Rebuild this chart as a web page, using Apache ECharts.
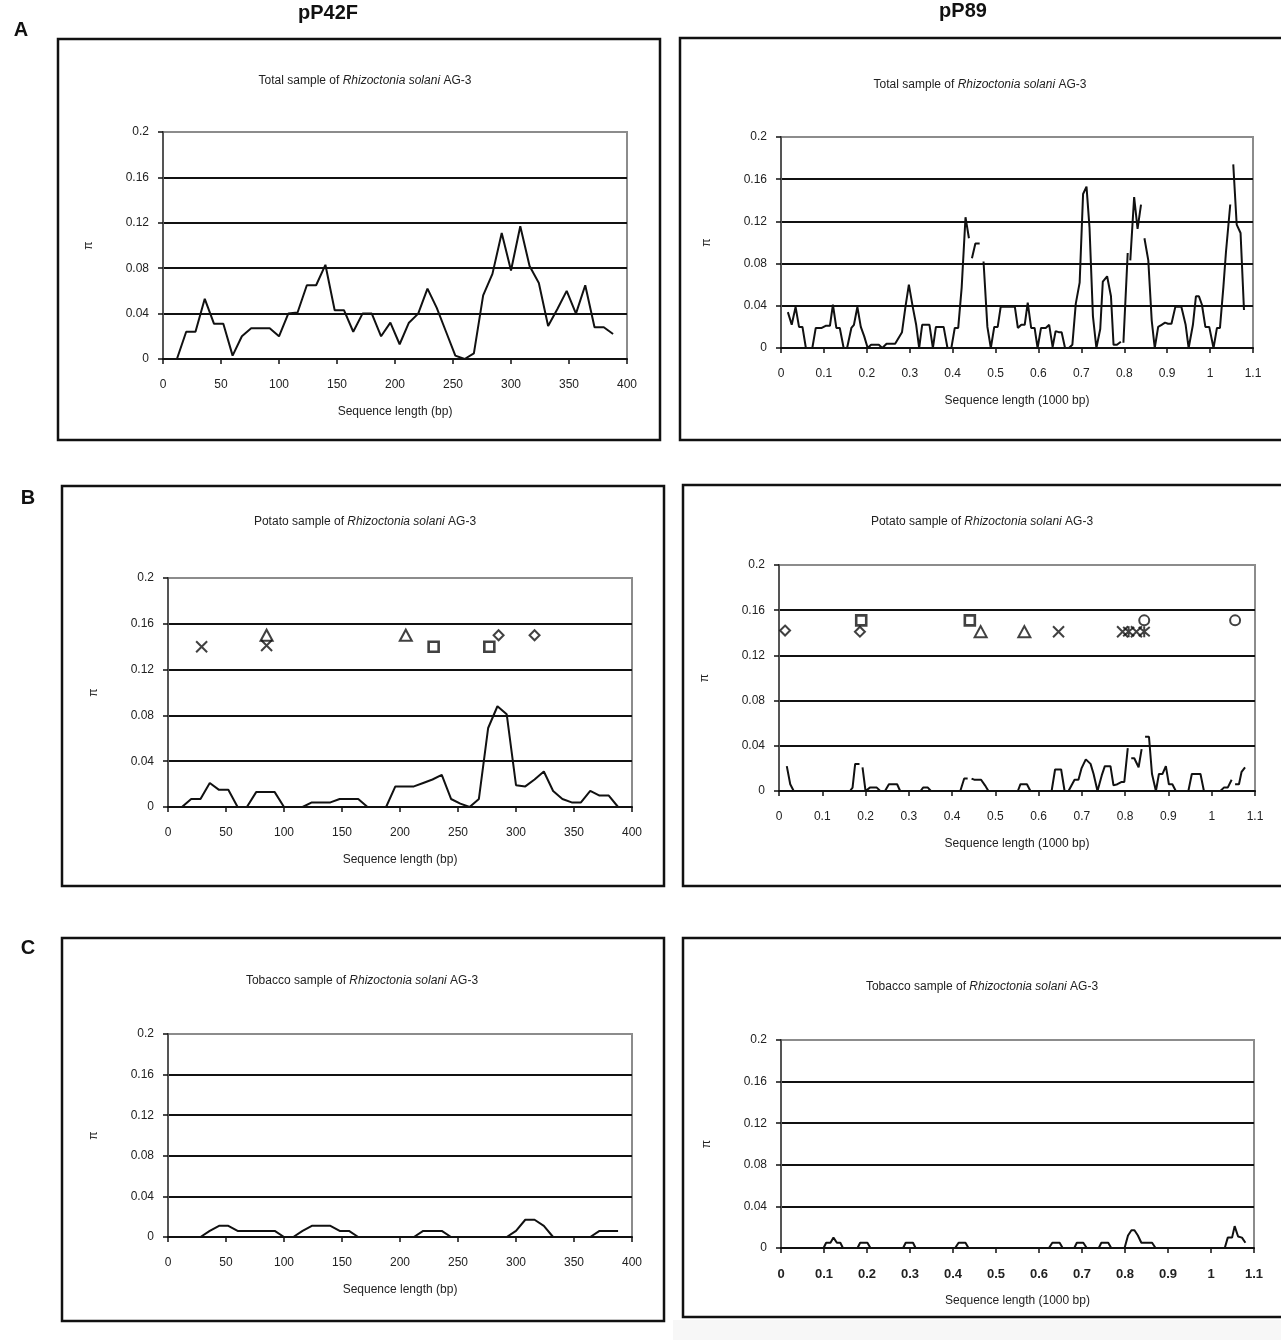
<!DOCTYPE html>
<html>
<head>
<meta charset="utf-8">
<script src="https://cdn.jsdelivr.net/npm/echarts@6/dist/echarts.min.js"></script>
<style>
html,body{margin:0;padding:0;background:#fff;}
#c{width:1281px;height:1340px;}
</style>
</head>
<body>
<div id="c"></div>
<script>
// ---------------- DATA ----------------
const columnHeads = ['pP42F', 'pP89'];
const panelLetters = ['A', 'B', 'C'];
const sampleNames = ['Total', 'Potato', 'Tobacco'];
const yTicks = [0, 0.04, 0.08, 0.12, 0.16, 0.2];

// pP42F (x in bp)
const pP42F_total = [[12,0],[20,0.024],[28,0.024],[36,0.053],[44,0.031],[52,0.031],[60,0.003],[68,0.020],[76,0.027],[84,0.027],[92,0.027],[100,0.020],[108,0.040],[116,0.041],[124,0.065],[132,0.065],[140,0.083],[148,0.043],[156,0.043],[164,0.024],[172,0.040],[180,0.040],[188,0.020],[196,0.032],[204,0.013],[212,0.032],[220,0.040],[228,0.062],[236,0.045],[244,0.024],[252,0.003],[260,0],[268,0.005],[276,0.056],[284,0.075],[292,0.111],[300,0.078],[308,0.117],[316,0.082],[324,0.067],[332,0.029],[340,0.044],[348,0.060],[356,0.040],[364,0.065],[372,0.028],[380,0.028],[388,0.022]];
const pP42F_potato = [[12,0],[20,0.007],[28,0.007],[36,0.021],[44,0.015],[52,0.015],[60,0],[68,0],[76,0.013],[84,0.013],[92,0.013],[100,0],[108,0],[116,0],[124,0.004],[132,0.004],[140,0.004],[148,0.007],[156,0.007],[164,0.007],[172,0],[180,0],[188,0],[196,0.018],[204,0.018],[212,0.018],[220,0.021],[228,0.024],[236,0.028],[244,0.007],[252,0.003],[260,0],[268,0.007],[276,0.069],[284,0.088],[292,0.081],[300,0.019],[308,0.018],[316,0.024],[324,0.031],[332,0.014],[340,0.007],[348,0.004],[356,0.004],[364,0.014],[372,0.010],[380,0.010],[388,0]];
const pP42F_tobacco = [[12,0],[20,0],[28,0],[36,0.006],[44,0.011],[52,0.011],[60,0.006],[68,0.006],[76,0.006],[84,0.006],[92,0.006],[100,0],[108,0],[116,0.006],[124,0.011],[132,0.011],[140,0.011],[148,0.006],[156,0.006],[164,0],[172,0],[180,0],[188,0],[196,0],[204,0],[212,0],[220,0.006],[228,0.006],[236,0.006],[244,0],[252,0],[260,0],[268,0],[276,0],[284,0],[292,0],[300,0.006],[308,0.017],[316,0.017],[324,0.011],[332,0],[340,0],[348,0],[356,0],[364,0],[372,0.006],[380,0.006],[388,0.006]];
const pP42F_potato_cross = [[29,0.140],[85,0.141]];
const pP42F_potato_triangle = [[85,0.150],[205,0.150]];
const pP42F_potato_square = [[229,0.140],[277,0.140]];
const pP42F_potato_diamond = [[285,0.150],[316,0.150]];

// pP89 (x in 1000 bp); '-' marks a break in the line
const pP89_total = [[0.016,0.034],[0.025,0.022],[0.034,0.039],[0.042,0.020],[0.050,0.020],[0.058,0],[0.073,0],[0.081,0.019],[0.095,0.019],[0.104,0.021],[0.114,0.021],[0.121,0.041],[0.129,0.019],[0.137,0.019],[0.146,0],[0.154,0],[0.164,0.019],[0.170,0.022],[0.178,0.039],[0.186,0.020],[0.194,0.011],[0.202,0],[0.210,0.003],[0.219,0.003],[0.228,0.003],[0.236,0],[0.246,0.004],[0.256,0.004],[0.266,0.004],[0.282,0.015],[0.290,0.039],[0.298,0.060],[0.307,0.039],[0.315,0.022],[0.322,0],[0.329,0.022],[0.346,0.022],[0.354,0],[0.361,0.020],[0.379,0.020],[0.388,0],[0.397,0],[0.405,0.019],[0.413,0.019],[0.421,0.057],[0.430,0.124],[0.438,0.104],[0.441,'-'],[0.445,0.085],[0.453,0.099],[0.463,0.099],[0.467,'-'],[0.472,0.082],[0.481,0.020],[0.489,0],[0.497,0.020],[0.505,0.020],[0.512,0.039],[0.545,0.039],[0.552,0.019],[0.560,0.022],[0.568,0.022],[0.575,0.043],[0.583,0.019],[0.591,0.019],[0.598,0],[0.606,0.019],[0.617,0.019],[0.625,0.022],[0.633,0.001],[0.640,0.016],[0.647,0.015],[0.654,0.015],[0.662,0],[0.671,0],[0.679,0.003],[0.687,0.042],[0.696,0.062],[0.704,0.146],[0.712,0.153],[0.719,0.114],[0.727,0.030],[0.735,0],[0.744,0.018],[0.750,0.063],[0.760,0.068],[0.769,0.049],[0.775,0.003],[0.783,0.003],[0.792,0.006],[0.795,'-'],[0.798,0.005],[0.808,0.090],[0.811,'-'],[0.814,0.083],[0.823,0.143],[0.831,0.113],[0.839,0.136],[0.843,'-'],[0.847,0.104],[0.856,0.083],[0.864,0.026],[0.871,0],[0.879,0.020],[0.887,0.022],[0.895,0.024],[0.902,0.023],[0.910,0.023],[0.919,0.039],[0.933,0.039],[0.943,0.022],[0.950,0],[0.960,0.022],[0.967,0.049],[0.974,0.049],[0.981,0.041],[0.989,0.020],[0.998,0.020],[1.008,0],[1.016,0.019],[1.023,0.019],[1.031,0.058],[1.037,0.091],[1.047,0.136],[1.050,'-'],[1.054,0.174],[1.062,0.117],[1.071,0.109],[1.079,0.036]];
const pP89_potato = [[0.018,0.022],[0.026,0.006],[0.034,0],[0.164,0],[0.170,0.003],[0.176,0.024],[0.186,0.024],[0.189,'-'],[0.193,0.021],[0.200,0],[0.210,0.003],[0.219,0.003],[0.226,0.003],[0.234,0],[0.245,0],[0.254,0.006],[0.273,0.006],[0.280,0],[0.327,0],[0.333,0.003],[0.344,0.003],[0.351,0],[0.419,0],[0.428,0.011],[0.436,0.011],[0.440,'-'],[0.445,0.011],[0.451,0.010],[0.467,0.010],[0.476,0.005],[0.484,0],[0.552,0],[0.558,0.006],[0.573,0.006],[0.581,0],[0.630,0],[0.638,0.019],[0.652,0.019],[0.660,0],[0.669,0],[0.683,0.010],[0.692,0.010],[0.699,0.020],[0.709,0.028],[0.720,0.024],[0.727,0.015],[0.736,0],[0.746,0.014],[0.753,0.022],[0.766,0.022],[0.773,0.005],[0.782,0.006],[0.792,0.008],[0.798,0.008],[0.806,0.038],[0.810,'-'],[0.814,0.029],[0.821,0.029],[0.831,0.021],[0.838,0.037],[0.842,'-'],[0.846,0.048],[0.855,0.048],[0.862,0.015],[0.871,0],[0.878,0.015],[0.886,0.015],[0.894,0.022],[0.901,0.006],[0.909,0.006],[0.917,0],[0.946,0],[0.954,0.015],[0.974,0.015],[0.982,0],[1.020,0],[1.028,0.003],[1.037,0.003],[1.046,0.010],[1.050,'-'],[1.054,0.006],[1.063,0.006],[1.069,0.017],[1.077,0.021]];
const pP89_tobacco = [[0.008,0],[0.099,0],[0.105,0.005],[0.115,0.005],[0.122,0.010],[0.130,0.005],[0.138,0.005],[0.144,0],[0.178,0],[0.184,0.005],[0.201,0.005],[0.208,0],[0.284,0],[0.290,0.005],[0.307,0.005],[0.313,0],[0.405,0],[0.413,0.005],[0.429,0.005],[0.436,0],[0.623,0],[0.631,0.005],[0.648,0.005],[0.655,0],[0.682,0],[0.688,0.005],[0.703,0.005],[0.711,0],[0.739,0],[0.745,0.005],[0.761,0.005],[0.768,0],[0.799,0],[0.807,0.012],[0.815,0.017],[0.822,0.017],[0.830,0.012],[0.838,0.005],[0.863,0.005],[0.871,0],[1.032,0],[1.039,0.010],[1.049,0.010],[1.055,0.021],[1.063,0.011],[1.072,0.010],[1.080,0.005]];
const pP89_potato_diamond = [[0.014,0.142],[0.187,0.141]];
const pP89_potato_square = [[0.190,0.151],[0.441,0.151]];
const pP89_potato_triangle = [[0.466,0.141],[0.567,0.141]];
const pP89_potato_cross = [[0.646,0.141],[0.794,0.141],[0.826,0.141]];
const pP89_potato_star = [[0.808,0.141],[0.844,0.141]];
const pP89_potato_circle = [[0.844,0.151],[1.054,0.151]];

// ---------------- LAYOUT ----------------
const FONT = '"Liberation Sans", Arial, sans-serif';
const INK = '#111';
// grid rectangles [left, top, width, height] for A-left, A-right, B-left, B-right, C-left, C-right
const grids = [
  [163, 132, 464, 227],
  [781, 137, 472, 211],
  [168, 578, 464, 229],
  [779, 565, 476, 226],
  [168, 1034, 464, 203],
  [781, 1040, 473, 208]
];

const chart = echarts.init(document.getElementById('c'), null, {renderer: 'canvas'});

const gridOpts = grids.map(g => ({
  left: g[0], top: g[1], width: g[2], height: g[3],
  show: true, borderColor: '#8c8c8c', borderWidth: 2, backgroundColor: 'transparent',
  containLabel: false
}));

const xAxes = grids.map((g, i) => {
  const right = i % 2 === 1;
  const boldX = i === 5;
  return {
    type: 'value', gridIndex: i,
    min: 0, max: right ? 1.1 : 400, interval: right ? 0.1 : 50,
    name: right ? 'Sequence length (1000 bp)' : 'Sequence length (bp)',
    nameLocation: 'middle', nameGap: 47,
    nameTextStyle: {fontFamily: FONT, fontSize: 12, color: '#222'},
    axisLine: {show: true, onZero: false, lineStyle: {color: INK, width: 2}},
    axisTick: {show: true, inside: false, length: 5, lineStyle: {color: INK, width: 1.5}},
    axisLabel: {fontFamily: FONT, fontSize: boldX ? 13 : 12, fontWeight: boldX ? 'bold' : 'normal', color: '#222', margin: 20,
      formatter: v => String(Math.round(v * 10) / 10)},
    splitLine: {show: false}
  };
});

const yAxes = grids.map((g, i) => ({
  type: 'value', gridIndex: i,
  min: 0, max: 0.2, interval: 0.04,
  name: 'π', nameLocation: 'middle', nameGap: 68, nameRotate: 90,
  nameTextStyle: {fontFamily: FONT, fontSize: 12, color: '#222'},
  axisLine: {show: true, lineStyle: {color: '#555', width: 2}},
  axisTick: {show: true, inside: false, length: 5, lineStyle: {color: INK, width: 1.5}},
  axisLabel: {fontFamily: FONT, fontSize: 12, color: '#222', margin: 14,
    formatter: v => String(Math.round(v * 100) / 100)},
  splitLine: {show: true, showMinLine: false, showMaxLine: false, lineStyle: {color: INK, width: 2}}
}));

function lineSeries(idx, data) {
  return {
    type: 'line', xAxisIndex: idx, yAxisIndex: idx, data: data,
    showSymbol: false, symbol: 'none', connectNulls: false, animation: false,
    lineStyle: {color: INK, width: 2}, z: 5
  };
}
const PATH_CROSS = 'path://M0,0L10,10M10,0L0,10';
const PATH_STAR = 'path://M0,0L10,10M10,0L0,10M5,-1L5,11';
const PATH_DIAMOND = 'path://M5,0L10,5L5,10L0,5Z';
function markSeries(idx, data, symbol, size, bw) {
  return {
    type: 'scatter', xAxisIndex: idx, yAxisIndex: idx, data: data,
    symbol: symbol, symbolSize: size, animation: false, z: 6,
    itemStyle: {color: 'rgba(0,0,0,0)', borderColor: INK, borderWidth: bw || 2}
  };
}

const series = [
  lineSeries(0, pP42F_total),
  lineSeries(1, pP89_total),
  lineSeries(2, pP42F_potato),
  lineSeries(3, pP89_potato),
  lineSeries(4, pP42F_tobacco),
  lineSeries(5, pP89_tobacco),
  markSeries(2, pP42F_potato_cross, PATH_CROSS, 11, 2),
  markSeries(2, pP42F_potato_triangle, 'triangle', [12, 11], 2),
  markSeries(2, pP42F_potato_square, 'rect', 10, 2.6),
  markSeries(2, pP42F_potato_diamond, PATH_DIAMOND, 10, 2),
  markSeries(3, pP89_potato_diamond, PATH_DIAMOND, 10, 2),
  markSeries(3, pP89_potato_square, 'rect', 10, 2.6),
  markSeries(3, pP89_potato_triangle, 'triangle', [12, 11], 2),
  markSeries(3, pP89_potato_cross, PATH_CROSS, 11, 2),
  markSeries(3, pP89_potato_star, PATH_STAR, 11, 2),
  markSeries(3, pP89_potato_circle, 'circle', 10, 2)
];

// frames, headings, titles
const frames = [
  [58, 39, 602, 401],
  [680, 38, 640, 402],
  [62, 486, 602, 400],
  [683, 485, 640, 401],
  [62, 938, 602, 383],
  [683, 938, 640, 379]
];
const titlePos = [[365, 81], [980, 85], [365, 522], [982, 522], [362, 981], [982, 987]];
const headPos = [[328, 13], [963, 11]];
const letterPos = [[21, 30], [28, 498], [28, 948]];

const graphic = [];
graphic.push({type: 'rect', shape: {x: 673, y: 1320, width: 620, height: 30}, style: {fill: '#f7f7f7'}, silent: true, z: 0});
frames.forEach(f => graphic.push({
  type: 'rect', shape: {x: f[0], y: f[1], width: f[2], height: f[3]},
  style: {fill: 'none', stroke: INK, lineWidth: 2.5}, silent: true, z: 1
}));
columnHeads.forEach((t, i) => graphic.push({
  type: 'text', x: headPos[i][0], y: headPos[i][1],
  style: {text: t, fill: INK, font: 'bold 20px ' + FONT, align: 'center', verticalAlign: 'middle'}
}));
panelLetters.forEach((t, i) => graphic.push({
  type: 'text', x: letterPos[i][0], y: letterPos[i][1],
  style: {text: t, fill: INK, font: 'bold 20px ' + FONT, align: 'center', verticalAlign: 'middle'}
}));
titlePos.forEach((p, i) => {
  const name = sampleNames[Math.floor(i / 2)];
  graphic.push({
    type: 'text', x: p[0], y: p[1],
    style: {
      text: '{n|' + name + ' sample of }{i|Rhizoctonia solani}{n| AG-3}',
      align: 'center', verticalAlign: 'middle',
      rich: {
        n: {fontFamily: FONT, fontSize: 12, fill: '#222', color: '#222'},
        i: {fontFamily: FONT, fontSize: 12, fontStyle: 'italic', fill: '#222', color: '#222'}
      }
    }
  });
});

chart.setOption({
  animation: false,
  backgroundColor: '#fff',
  grid: gridOpts,
  xAxis: xAxes,
  yAxis: yAxes,
  series: series,
  graphic: graphic
});
</script>
</body>
</html>
